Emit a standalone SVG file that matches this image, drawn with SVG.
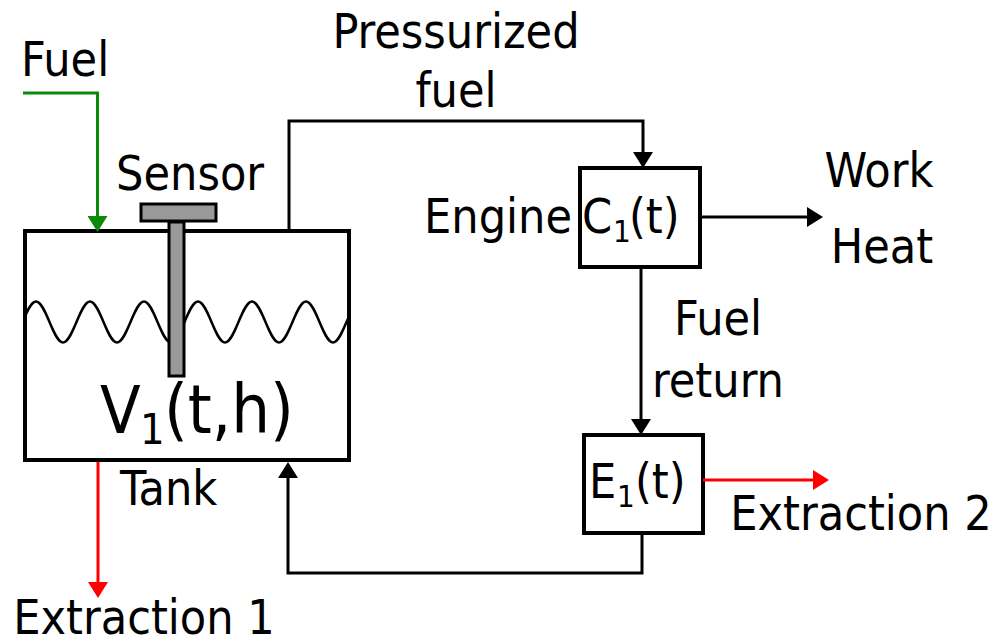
<svg xmlns="http://www.w3.org/2000/svg" width="999" height="644" viewBox="0 0 999 644">
<style>
text{font-family:"DejaVu Sans Condensed","DejaVu Sans",sans-serif;font-stretch:condensed;font-size:48px;fill:#000}
.box{fill:#fff;stroke:#000;stroke-width:4}
.sensor{fill:#999;stroke:#000;stroke-width:3}
.wave{fill:none;stroke:#000;stroke-width:2.5}
.conn{fill:none;stroke:#000;stroke-width:3}
.green{stroke:#0a8a0a}
.red{stroke:#ff0000}
.sub{font-size:31px}
.big{font-size:66px}
.bigp{font-size:68px}
.bigsub{font-size:43px}
</style>
<defs>
<marker id="ah" viewBox="0 0 16 20" markerWidth="16" markerHeight="20" refX="13" refY="10" orient="auto" markerUnits="userSpaceOnUse"><path d="M0,0L16,10L0,20z" fill="#000"/></marker>
<marker id="ahg" viewBox="0 0 16 20" markerWidth="16" markerHeight="20" refX="13" refY="10" orient="auto" markerUnits="userSpaceOnUse"><path d="M0,0L16,10L0,20z" fill="#0a8a0a"/></marker>
<marker id="ahr" viewBox="0 0 16 20" markerWidth="16" markerHeight="20" refX="13" refY="10" orient="auto" markerUnits="userSpaceOnUse"><path d="M0,0L16,10L0,20z" fill="#ff0000"/></marker>
<clipPath id="tankclip"><rect x="27" y="233" width="320" height="225"/></clipPath>
</defs>

<g id="tank">
<rect class="box" x="25" y="231" width="324" height="229"/>
<path class="wave" clip-path="url(#tankclip)" d="M9,342.5 C18.81,342.5 26.19,301.5 36,301.5 S53.19,342.5 63,342.5 S80.19,301.5 90,301.5 S107.19,342.5 117,342.5 S134.19,301.5 144,301.5 S161.19,342.5 171,342.5 S188.19,301.5 198,301.5 S215.19,342.5 225,342.5 S242.19,301.5 252,301.5 S269.19,342.5 279,342.5 S296.19,301.5 306,301.5 S323.19,342.5 333,342.5 S350.19,301.5 360,301.5"/>
<text class="big" x="100" y="433">V</text>
<text class="bigsub" x="140" y="444">1</text>
<text class="bigp" x="164" y="433">(t,h)</text>
<text x="120" y="505">Tank</text>
</g>

<g id="sensor">
<rect class="sensor" x="169" y="222" width="15" height="154"/>
<rect class="sensor" x="141" y="204" width="75" height="17"/>
<text x="116" y="190">Sensor</text>
</g>

<g id="engine">
<rect class="box" x="580" y="168" width="120" height="99"/>
<text x="582" y="233">C</text>
<text class="sub" x="613" y="242">1</text>
<text x="629" y="233">(t)</text>
<text x="572" y="233" text-anchor="end">Engine</text>
</g>

<g id="extractor">
<rect class="box" x="584" y="435" width="119" height="98"/>
<text x="589" y="498">E</text>
<text class="sub" x="617" y="507">1</text>
<text x="635" y="498">(t)</text>
</g>

<g id="labels">
<text x="21" y="76">Fuel</text>
<text x="456" y="48" text-anchor="middle">Pressurized</text>
<text x="456" y="107" text-anchor="middle">fuel</text>
<text x="879" y="187" text-anchor="middle">Work</text>
<text x="882" y="263" text-anchor="middle">Heat</text>
<text x="718" y="335" text-anchor="middle">Fuel</text>
<text x="718" y="397" text-anchor="middle">return</text>
<text x="144" y="634" text-anchor="middle">Extraction 1</text>
<text x="861" y="530" text-anchor="middle">Extraction 2</text>
</g>

<g id="connectors">
<path class="conn green" marker-end="url(#ahg)" d="M23,93H97.5V229"/>
<path class="conn" marker-end="url(#ah)" d="M289,229V121H643V165"/>
<path class="conn" marker-end="url(#ah)" d="M700,217H820"/>
<path class="conn" marker-end="url(#ah)" d="M641,267V432"/>
<path class="conn red" marker-end="url(#ahr)" d="M703,480H826"/>
<path class="conn" marker-end="url(#ah)" d="M642,533V573H288V465"/>
<path class="conn red" marker-end="url(#ahr)" d="M98,462V595"/>
</g>
</svg>
